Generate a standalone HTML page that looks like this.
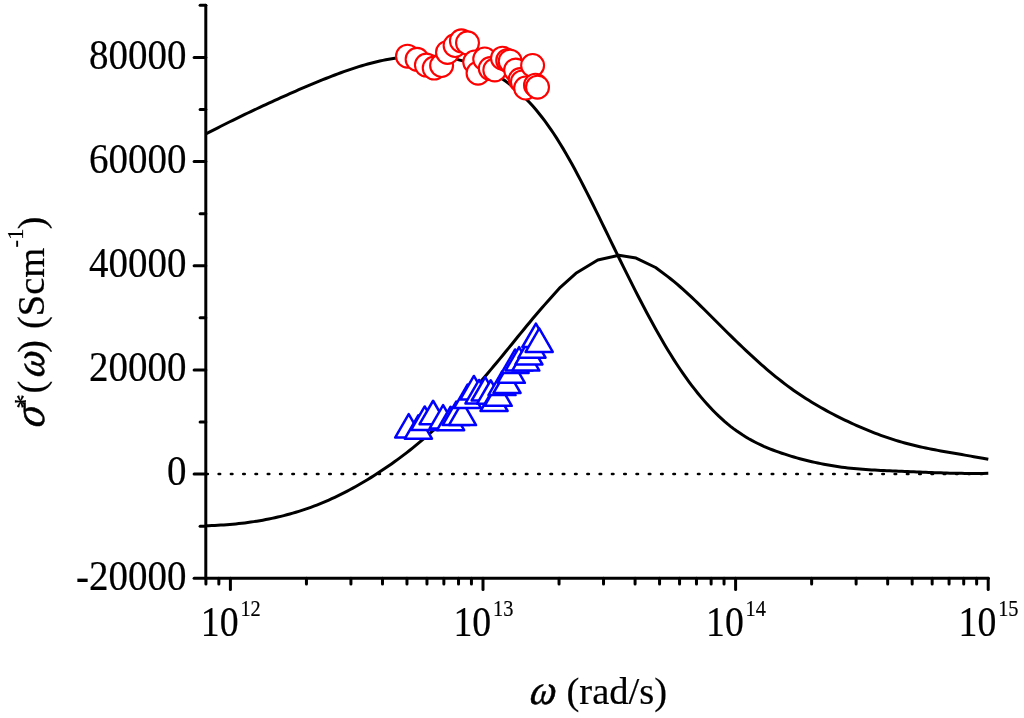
<!DOCTYPE html>
<html><head><meta charset="utf-8"><title>chart</title>
<style>
html,body{margin:0;padding:0;background:#fff;}
body{width:1024px;height:718px;overflow:hidden;font-family:"Liberation Serif",serif;}
svg{display:block;}
text{font-family:"Liberation Serif",serif;fill:#000;}
</style></head><body>
<svg width="1024" height="718" viewBox="0 0 1024 718">
<rect width="1024" height="718" fill="#fff"/>
<line x1="206.4" y1="474" x2="989.3" y2="474" stroke="#000" stroke-width="2.7" stroke-linecap="round" stroke-dasharray="1.4 10.891"/>
<path d="M205.8,134.00 L208.8,132.43 L211.8,130.87 L214.8,129.32 L217.8,127.79 L220.8,126.27 L223.8,124.75 L226.8,123.25 L229.8,121.76 L232.8,120.28 L235.8,118.81 L238.8,117.35 L241.8,115.90 L244.8,114.45 L247.8,113.02 L250.8,111.59 L253.8,110.17 L256.8,108.76 L259.8,107.35 L262.8,105.95 L265.8,104.56 L268.8,103.18 L271.8,101.80 L274.8,100.42 L277.8,99.06 L280.8,97.70 L283.8,96.35 L286.8,95.01 L289.8,93.68 L292.8,92.36 L295.8,91.04 L298.8,89.74 L301.8,88.45 L304.8,87.16 L307.8,85.89 L310.8,84.63 L313.8,83.38 L316.8,82.15 L319.8,80.92 L322.8,79.71 L325.8,78.51 L328.8,77.33 L331.8,76.17 L334.8,75.02 L337.8,73.89 L340.8,72.78 L343.8,71.70 L346.8,70.64 L349.8,69.60 L352.8,68.59 L355.8,67.62 L358.8,66.67 L361.8,65.75 L364.8,64.87 L367.8,64.02 L370.8,63.21 L373.8,62.43 L376.8,61.70 L379.8,61.01 L382.8,60.36 L385.8,59.75 L388.8,59.18 L391.8,58.66 L394.8,58.19 L397.8,57.76 L400.8,57.38 L403.8,57.04 L406.8,56.75 L409.8,56.51 L412.8,56.31 L415.8,56.17 L418.8,56.07 L421.8,56.02 L424.8,56.03 L427.8,56.08 L430.8,56.19 L433.8,56.34 L436.8,56.55 L439.8,56.82 L442.8,57.13 L445.8,57.51 L448.8,57.95 L451.8,58.44 L454.8,59.01 L457.8,59.64 L460.8,60.35 L463.8,61.12 L466.8,61.98 L469.8,62.91 L472.8,63.93 L475.8,65.03 L478.8,66.22 L481.8,67.50 L484.8,68.88 L487.8,70.35 L490.8,71.92 L493.8,73.59 L496.8,75.36 L499.8,77.25 L502.8,79.24 L505.8,81.35 L508.8,83.58 L511.8,85.93 L514.8,88.40 L517.8,91.01 L520.8,93.75 L523.8,96.62 L526.8,99.64 L529.8,102.80 L532.8,106.11 L535.8,109.57 L538.8,113.19 L541.8,116.96 L544.8,120.90 L547.8,125.01 L550.8,129.29 L553.8,133.74 L556.8,138.37 L559.8,143.17 L562.8,148.12 L565.8,153.23 L568.8,158.47 L571.8,163.85 L574.8,169.34 L577.8,174.95 L580.8,180.66 L583.8,186.45 L586.8,192.33 L589.8,198.28 L592.8,204.29 L595.8,210.35 L598.8,216.45 L601.8,222.58 L604.8,228.73 L607.8,234.90 L610.8,241.07 L613.8,247.23 L616.8,253.38 L619.8,259.50 L622.8,265.60 L625.8,271.66 L628.8,277.69 L631.8,283.67 L634.8,289.61 L637.8,295.49 L640.8,301.30 L643.8,307.05 L646.8,312.73 L649.8,318.32 L652.8,323.84 L655.8,329.26 L658.8,334.59 L661.8,339.81 L664.8,344.93 L667.8,349.93 L670.8,354.82 L673.8,359.58 L676.8,364.22 L679.8,368.73 L682.8,373.12 L685.8,377.39 L688.8,381.53 L691.8,385.55 L694.8,389.45 L697.8,393.23 L700.8,396.88 L703.8,400.40 L706.8,403.80 L709.8,407.08 L712.8,410.24 L715.8,413.27 L718.8,416.18 L721.8,418.96 L724.8,421.62 L727.8,424.16 L730.8,426.57 L733.8,428.87 L736.8,431.05 L739.8,433.11 L742.8,435.08 L745.8,436.94 L748.8,438.71 L751.8,440.39 L754.8,441.98 L757.8,443.49 L760.8,444.92 L763.8,446.29 L766.8,447.58 L769.8,448.81 L772.8,449.99 L775.8,451.11 L778.8,452.18 L781.8,453.21 L784.8,454.20 L787.8,455.16 L790.8,456.09 L793.8,456.98 L796.8,457.85 L799.8,458.68 L802.8,459.48 L805.8,460.25 L808.8,460.99 L811.8,461.70 L814.8,462.37 L817.8,463.02 L820.8,463.64 L823.8,464.23 L826.8,464.79 L829.8,465.32 L832.8,465.82 L835.8,466.29 L838.8,466.73 L841.8,467.14 L844.8,467.53 L847.8,467.89 L850.8,468.22 L853.8,468.53 L856.8,468.81 L859.8,469.07 L862.8,469.31 L865.8,469.53 L868.8,469.74 L871.8,469.93 L874.8,470.11 L877.8,470.27 L880.8,470.42 L883.8,470.57 L886.8,470.71 L889.8,470.84 L892.8,470.96 L895.8,471.09 L898.8,471.21 L901.8,471.33 L904.8,471.45 L907.8,471.58 L910.8,471.70 L913.8,471.83 L916.8,471.95 L919.8,472.08 L922.8,472.20 L925.8,472.32 L928.8,472.44 L931.8,472.55 L934.8,472.66 L937.8,472.76 L940.8,472.86 L943.8,472.96 L946.8,473.05 L949.8,473.13 L952.8,473.20 L955.8,473.27 L958.8,473.33 L961.8,473.37 L964.8,473.41 L967.8,473.44 L970.8,473.46 L973.8,473.46 L976.8,473.46 L979.8,473.44 L982.8,473.41 L988.3,473.31" fill="none" stroke="#000" stroke-width="3" stroke-linejoin="round"/>
<path d="M205.8,525.76 L208.8,525.67 L211.8,525.56 L214.8,525.42 L217.8,525.27 L220.8,525.10 L223.8,524.90 L226.8,524.69 L229.8,524.45 L232.8,524.18 L235.8,523.90 L238.8,523.59 L241.8,523.25 L244.8,522.89 L247.8,522.50 L250.8,522.08 L253.8,521.64 L256.8,521.17 L259.8,520.68 L262.8,520.15 L265.8,519.59 L268.8,519.01 L271.8,518.39 L274.8,517.74 L277.8,517.06 L280.8,516.35 L283.8,515.60 L286.8,514.82 L289.8,514.01 L292.8,513.16 L295.8,512.28 L298.8,511.36 L301.8,510.40 L304.8,509.41 L307.8,508.38 L310.8,507.31 L313.8,506.20 L316.8,505.06 L319.8,503.87 L322.8,502.64 L325.8,501.37 L328.8,500.06 L331.8,498.71 L334.8,497.32 L337.8,495.89 L340.8,494.42 L343.8,492.91 L346.8,491.36 L349.8,489.77 L352.8,488.15 L355.8,486.48 L358.8,484.78 L361.8,483.04 L364.8,481.27 L367.8,479.46 L370.8,477.61 L373.8,475.72 L376.8,473.80 L379.8,471.85 L382.8,469.86 L385.8,467.83 L388.8,465.77 L391.8,463.66 L394.8,461.52 L397.8,459.35 L400.8,457.13 L403.8,454.87 L406.8,452.57 L409.8,450.22 L412.8,447.84 L415.8,445.41 L418.8,442.93 L421.8,440.41 L424.8,437.84 L427.8,435.23 L430.8,432.57 L433.8,429.86 L436.8,427.10 L439.8,424.29 L442.8,421.43 L445.8,418.52 L448.8,415.56 L451.8,412.55 L454.8,409.50 L457.8,406.41 L460.8,403.26 L463.8,400.08 L466.8,396.85 L469.8,393.59 L472.8,390.28 L475.8,386.93 L478.8,383.55 L481.8,380.13 L484.8,376.67 L487.8,373.17 L490.8,369.64 L493.8,366.08 L496.8,362.49 L499.8,358.86 L502.8,355.21 L505.8,351.55 L508.8,347.86 L511.8,344.18 L514.8,340.48 L517.8,336.79 L520.8,333.11 L523.8,329.45 L526.8,325.80 L529.8,322.18 L532.8,318.58 L535.8,315.03 L538.8,311.51 L541.8,308.05 L544.8,304.63 L547.8,301.27 L560.3,287.30 L575.9,273.30 L597.8,260.00 L618.9,255.30 L636.1,258.10 L655.6,267.50 L667.8,276.60 L670.8,278.96 L673.8,281.40 L676.8,283.91 L679.8,286.49 L682.8,289.14 L685.8,291.84 L688.8,294.60 L691.8,297.40 L694.8,300.25 L697.8,303.14 L700.8,306.06 L703.8,309.00 L706.8,311.97 L709.8,314.96 L712.8,317.96 L715.8,320.96 L718.8,323.97 L721.8,326.97 L724.8,329.96 L727.8,332.95 L730.8,335.91 L733.8,338.85 L736.8,341.77 L739.8,344.66 L742.8,347.53 L745.8,350.37 L748.8,353.18 L751.8,355.96 L754.8,358.70 L757.8,361.40 L760.8,364.07 L763.8,366.70 L766.8,369.29 L769.8,371.84 L772.8,374.33 L775.8,376.79 L778.8,379.19 L781.8,381.54 L784.8,383.84 L787.8,386.08 L790.8,388.27 L793.8,390.41 L796.8,392.50 L799.8,394.53 L802.8,396.52 L805.8,398.46 L808.8,400.35 L811.8,402.20 L814.8,404.01 L817.8,405.77 L820.8,407.50 L823.8,409.18 L826.8,410.83 L829.8,412.45 L832.8,414.03 L835.8,415.57 L838.8,417.09 L841.8,418.58 L844.8,420.03 L847.8,421.47 L850.8,422.87 L853.8,424.24 L856.8,425.59 L859.8,426.91 L862.8,428.19 L865.8,429.45 L868.8,430.68 L871.8,431.88 L874.8,433.05 L877.8,434.18 L880.8,435.29 L883.8,436.36 L886.8,437.40 L889.8,438.41 L892.8,439.38 L895.8,440.32 L898.8,441.23 L901.8,442.10 L904.8,442.94 L907.8,443.75 L910.8,444.52 L913.8,445.26 L916.8,445.98 L919.8,446.67 L922.8,447.34 L925.8,447.98 L928.8,448.61 L931.8,449.21 L934.8,449.80 L937.8,450.37 L940.8,450.93 L943.8,451.48 L946.8,452.01 L949.8,452.54 L952.8,453.06 L955.8,453.58 L958.8,454.09 L961.8,454.60 L964.8,455.11 L967.8,455.62 L970.8,456.14 L973.8,456.66 L976.8,457.19 L979.8,457.73 L982.8,458.28 L988.3,459.32" fill="none" stroke="#000" stroke-width="3" stroke-linejoin="round"/>
<g stroke="#000" stroke-width="3" fill="none" stroke-linecap="round">
<path d="M205.8,5.2 V578.3"/>
<path d="M205.8,578.3 H988.3"/>
<path d="M194.1,578.28 H205.8"/>
<path d="M200.1,526.19 H205.8"/>
<path d="M194.1,474.10 H205.8"/>
<path d="M200.1,422.01 H205.8"/>
<path d="M194.1,369.92 H205.8"/>
<path d="M200.1,317.83 H205.8"/>
<path d="M194.1,265.74 H205.8"/>
<path d="M200.1,213.65 H205.8"/>
<path d="M194.1,161.56 H205.8"/>
<path d="M200.1,109.47 H205.8"/>
<path d="M194.1,57.38 H205.8"/>
<path d="M200.1,5.29 H205.8"/>
<path d="M205.92,578.3 V584.0"/>
<path d="M218.84,578.3 V584.0"/>
<path d="M230.40,578.3 V589.6"/>
<path d="M306.44,578.3 V584.0"/>
<path d="M350.92,578.3 V584.0"/>
<path d="M382.48,578.3 V584.0"/>
<path d="M406.96,578.3 V584.0"/>
<path d="M426.96,578.3 V584.0"/>
<path d="M443.87,578.3 V584.0"/>
<path d="M458.52,578.3 V584.0"/>
<path d="M471.44,578.3 V584.0"/>
<path d="M483.00,578.3 V589.6"/>
<path d="M559.04,578.3 V584.0"/>
<path d="M603.52,578.3 V584.0"/>
<path d="M635.08,578.3 V584.0"/>
<path d="M659.56,578.3 V584.0"/>
<path d="M679.56,578.3 V584.0"/>
<path d="M696.47,578.3 V584.0"/>
<path d="M711.12,578.3 V584.0"/>
<path d="M724.04,578.3 V584.0"/>
<path d="M735.60,578.3 V589.6"/>
<path d="M811.64,578.3 V584.0"/>
<path d="M856.12,578.3 V584.0"/>
<path d="M887.68,578.3 V584.0"/>
<path d="M912.16,578.3 V584.0"/>
<path d="M932.16,578.3 V584.0"/>
<path d="M949.07,578.3 V584.0"/>
<path d="M963.72,578.3 V584.0"/>
<path d="M976.64,578.3 V584.0"/>
<path d="M988.20,578.3 V589.6"/>
</g>
<g style="will-change:transform" stroke="#000" stroke-width="0.2">
<text transform="translate(186.5,589.5) scale(0.975,1.035)" font-size="40" text-anchor="end">-20000</text>
<text transform="translate(186.5,485.3) scale(0.975,1.035)" font-size="40" text-anchor="end">0</text>
<text transform="translate(186.5,381.1) scale(0.975,1.035)" font-size="40" text-anchor="end">20000</text>
<text transform="translate(186.5,276.9) scale(0.975,1.035)" font-size="40" text-anchor="end">40000</text>
<text transform="translate(186.5,172.8) scale(0.975,1.035)" font-size="40" text-anchor="end">60000</text>
<text transform="translate(186.5,68.6) scale(0.975,1.035)" font-size="40" text-anchor="end">80000</text>
<text transform="translate(200.8,636.1) scale(0.945,1.035)" font-size="40">10</text>
<text transform="translate(240.4,615.6) scale(0.893,1.04)" font-size="22.8">12</text>
<text transform="translate(453.4,636.1) scale(0.945,1.035)" font-size="40">10</text>
<text transform="translate(493.0,615.6) scale(0.893,1.04)" font-size="22.8">13</text>
<text transform="translate(706.0,636.1) scale(0.945,1.035)" font-size="40">10</text>
<text transform="translate(745.6,615.6) scale(0.893,1.04)" font-size="22.8">14</text>
<text transform="translate(958.6,636.1) scale(0.945,1.035)" font-size="40">10</text>
<text transform="translate(998.2,615.6) scale(0.893,1.04)" font-size="22.8">15</text>
<text transform="translate(527.6,704) skewX(-16) scale(0.95,1)" font-size="42" stroke="#000" stroke-width="0.5">ω</text>
<text x="566.5" y="703.8" font-size="38.6">(rad/s)</text>
<text transform="translate(44,430.0) rotate(-90) skewX(-16) scale(0.95,1)" font-size="44" stroke="#000" stroke-width="0.5">σ</text>
<text transform="translate(34,409.0) rotate(-90) " font-size="30" >*</text>
<text transform="translate(44,393.5) rotate(-90) " font-size="38.6" >(</text>
<text transform="translate(44,379.5) rotate(-90) skewX(-16) scale(0.95,1)" font-size="42" stroke="#000" stroke-width="0.5">ω</text>
<text transform="translate(44,353.0) rotate(-90) " font-size="38.6" >)</text>
<text transform="translate(44,329.1) rotate(-90) " font-size="38.6" >(Scm</text>
<text transform="translate(22.7,247.5) rotate(-90) " font-size="22.8" >-1</text>
<text transform="translate(44,229.5) rotate(-90) " font-size="38.6" >)</text>
</g>
<g fill="#fff" stroke="#f00" stroke-width="2.1">
<circle cx="407.5" cy="56.2" r="11.45"/>
<circle cx="417.1" cy="59.3" r="11.45"/>
<circle cx="426.4" cy="65.1" r="11.45"/>
<circle cx="434.2" cy="68.1" r="11.45"/>
<circle cx="441.6" cy="65.5" r="11.45"/>
<circle cx="447.5" cy="52.4" r="11.45"/>
<circle cx="455.1" cy="45.5" r="11.45"/>
<circle cx="461.4" cy="40.8" r="11.45"/>
<circle cx="467.5" cy="42.8" r="11.45"/>
<circle cx="474.7" cy="62" r="11.45"/>
<circle cx="478.05" cy="73.2" r="11.45"/>
<circle cx="484.7" cy="59" r="11.45"/>
<circle cx="490.3" cy="68.6" r="11.45"/>
<circle cx="494.8" cy="69.9" r="11.45"/>
<circle cx="502.5" cy="58.2" r="11.45"/>
<circle cx="507.7" cy="60.4" r="11.45"/>
<circle cx="510.2" cy="61.2" r="11.45"/>
<circle cx="515.6" cy="70.1" r="11.45"/>
<circle cx="520.2" cy="79.6" r="11.45"/>
<circle cx="522.4" cy="81.9" r="11.45"/>
<circle cx="525.6" cy="88" r="11.45"/>
<circle cx="532.6" cy="65.5" r="11.45"/>
<circle cx="535.5" cy="85.2" r="11.45"/>
<circle cx="537.5" cy="87.2" r="11.45"/>
</g>
<g fill="#fff" stroke="#00f" stroke-width="2.5" stroke-linejoin="round">
<path d="M395.15,437.60 L408.70,414.15 L422.25,437.60 Z"/>
<path d="M404.85,438.70 L418.40,415.25 L431.95,438.70 Z"/>
<path d="M411.15,429.90 L424.70,406.45 L438.25,429.90 Z"/>
<path d="M419.55,424.20 L433.10,400.75 L446.65,424.20 Z"/>
<path d="M429.55,428.60 L443.10,405.15 L456.65,428.60 Z"/>
<path d="M437.05,430.20 L450.60,406.75 L464.15,430.20 Z"/>
<path d="M442.65,425.00 L456.20,401.55 L469.75,425.00 Z"/>
<path d="M448.95,425.10 L462.50,401.65 L476.05,425.10 Z"/>
<path d="M453.95,408.10 L467.50,384.65 L481.05,408.10 Z"/>
<path d="M460.35,399.40 L473.90,375.95 L487.45,399.40 Z"/>
<path d="M465.45,403.40 L479.00,379.95 L492.55,403.40 Z"/>
<path d="M471.65,400.50 L485.20,377.05 L498.75,400.50 Z"/>
<path d="M477.15,403.70 L490.70,380.25 L504.25,403.70 Z"/>
<path d="M480.55,411.00 L494.10,387.55 L507.65,411.00 Z"/>
<path d="M484.65,405.80 L498.20,382.35 L511.75,405.80 Z"/>
<path d="M488.45,395.10 L502.00,371.65 L515.55,395.10 Z"/>
<path d="M493.45,393.00 L507.00,369.55 L520.55,393.00 Z"/>
<path d="M497.75,382.80 L511.30,359.35 L524.85,382.80 Z"/>
<path d="M501.55,372.90 L515.10,349.45 L528.65,372.90 Z"/>
<path d="M505.55,370.50 L519.10,347.05 L532.65,370.50 Z"/>
<path d="M512.25,370.60 L525.80,347.15 L539.35,370.60 Z"/>
<path d="M515.35,364.50 L528.90,341.05 L542.45,364.50 Z"/>
<path d="M518.45,357.70 L532.00,334.25 L545.55,357.70 Z"/>
<path d="M522.35,347.00 L535.90,323.55 L549.45,347.00 Z"/>
<path d="M525.65,351.90 L539.20,328.45 L552.75,351.90 Z"/>
</g>
</svg>
</body></html>
